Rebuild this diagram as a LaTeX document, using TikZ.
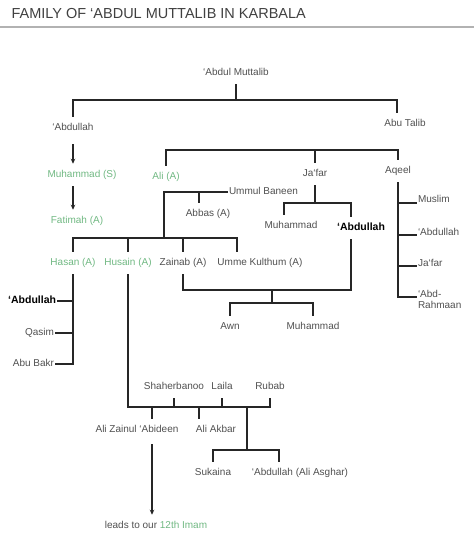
\documentclass[tikz,border=0pt]{standalone}
\usepackage{fontspec}
\setmainfont{Liberation Sans}
\usetikzlibrary{arrows.meta}

\definecolor{txt}{RGB}{80,80,80}
\definecolor{imamgreen}{RGB}{112,184,130}

\begin{document}
\begin{tikzpicture}[x=1pt, y=-1pt, >={Stealth[length=5pt,width=4.5pt]},
    pers/.style={font=\fontsize{10}{12}\selectfont, text=txt, inner sep=1.5pt, outer sep=5pt, text height=7.5pt, text depth=2pt},
    imam/.style={pers, text=imamgreen},
    bold/.style={pers, text=black, font=\fontsize{10.5}{12}\selectfont\bfseries},
    side/.style={pers, outer sep=0pt, inner sep=1pt},
    link/.style={line width=1.1pt, draw=black!85}]
    \useasboundingbox (0,0) rectangle (474,534);

    % Title
    \node[anchor=west, font=\fontsize{14.5}{16}\selectfont, text=black!75] (title) at (8,14) {FAMILY OF ‘ABDUL MUTTALIB IN KARBALA};
    \draw[black!30, line width=2pt] (0,27) -- (474,27);

    % Generations
    \node[pers] (am) at (236,73) {‘Abdul Muttalib};
    \node[pers] (abd) at (73,128) {‘Abdullah};
    \node[pers] (abt) at (405,124) {Abu Talib};
    \node[imam] (muh) at (82,175) {Muhammad (S)};
    \node[imam] (fat) at (77,221) {Fatimah (A)};
    \node[imam] (ali) at (166,177) {Ali (A)};
    \node[pers] (jaf) at (315,174) {Ja‘far};
    \node[pers] (aq) at (398,171) {Aqeel};
    \node[side, anchor=west] (ub) at (228,192) {Ummul Baneen};
    \node[pers] (abb) at (208,214) {Abbas (A)};
    \node[pers] (jmuh) at (291,226) {Muhammad};
    \node[bold] (jabd) at (361,228) {‘Abdullah};
    \node[imam] (has) at (73,263) {Hasan (A)};
    \node[imam] (hus) at (128,263) {Husain (A)};
    \node[pers] (zai) at (183,263) {Zainab (A)};
    \node[pers] (umk) at (260,263) {Umme Kulthum (A)};
    \node[pers] (awn) at (230,327) {Awn};
    \node[pers] (zmuh) at (313,327) {Muhammad};

    % Aqeel's sons
    \node[side, anchor=base west] (mus) at (417,203) {Muslim};
    \node[side, anchor=base west] (qabd) at (417,235) {‘Abdullah};
    \node[side, anchor=base west] (qjaf) at (417,266) {Ja‘far};
    \node[side, anchor=base west] (abr) at (417,297) {\begin{tabular}[t]{@{}l@{}}‘Abd-\\[-1pt]Rahmaan\end{tabular}};

    % Hasan's sons
    \node[bold, outer sep=0pt, inner sep=1pt, anchor=east] (habd) at (57,301) {‘Abdullah};
    \node[side, anchor=east] (qas) at (55,333) {Qasim};
    \node[side, anchor=east] (abk) at (55,364) {Abu Bakr};

    % Husain's family
    \node[pers] (sha) at (174,387) {Shaherbanoo};
    \node[pers] (lai) at (222,387) {Laila};
    \node[pers] (rub) at (270,387) {Rubab};
    \node[pers] (azd) at (137,430) {Ali Zainul ‘Abideen};
    \node[pers] (aak) at (216,430) {Ali Akbar};
    \node[pers] (suk) at (213,473) {Sukaina};
    \node[pers] (asg) at (300,473) {‘Abdullah (Ali Asghar)};
    \node[pers] (lead) at (156,526) {leads to our \textcolor{imamgreen}{12th Imam}};

    % Junctions
    \coordinate (b1) at (236,100);
    \coordinate (b2) at (315,150);
    \coordinate (b3) at (164,238);
    \coordinate (b4) at (315,203);
    \coordinate (b5) at (272,290);
    \coordinate (b6) at (272,303);
    \coordinate (b7) at (247,407);
    \coordinate (b8) at (247,450);

    % Connectors
    \draw[link] (am) -- (b1);
    \draw[link] (abd) |- (b1) -| ([xshift=-8pt]abt.north);
    \draw[link,->,shorten <=5pt] (abd.south) -- (abd.south |- muh.north);
    \draw[link,->] (abd.south |- muh.south) -- (abd.south |- fat.north);
    \draw[link] (ali) |- (b2) -| (aq);
    \draw[link] (jaf) -- (b2);
    \draw[link] (ub.west) -| (b3);
    \draw[link] ([xshift=-9pt]abb.north) -- ([xshift=-9pt]abb.north |- ub.west);
    \draw[link] (has) |- (b3) -| ([xshift=-23pt]umk.north);
    \draw[link] (hus) -- (hus |- b3);
    \draw[link] (zai) -- (zai |- b3);
    \draw[link] (jaf) -- (b4);
    \draw[link] ([xshift=-7pt]jmuh.north) |- (b4) -| ([xshift=-10pt]jabd.north);
    \draw[link] (zai) |- (b5) -| ([xshift=-10pt]jabd.south);
    \draw[link] (b5) -- (b6);
    \draw[link] (awn) |- (b6) -| (zmuh);
    \draw[link] (aq) |- (abr.base west);
    \foreach \n in {mus,qabd,qjaf}
        \draw[link] (aq |- \n.base west) -- (\n.base west);
    \draw[link] (has) |- (abk.east);
    \foreach \n in {habd,qas}
        \draw[link] (\n.east) -- (\n.east -| has);
    \draw[link] (hus) |- (b7) -| (rub);
    \draw[link] (sha) -- (sha |- b7);
    \draw[link] (lai) -- (lai |- b7);
    \draw[link] ([xshift=15pt]azd.north) -- ([xshift=15pt]azd.north |- b7);
    \draw[link] ([xshift=-17pt]aak.north) -- ([xshift=-17pt]aak.north |- b7);
    \draw[link] (b7) -- (b8);
    \draw[link] (suk) |- (b8) -| ([xshift=-21pt]asg.north);
    \draw[link,->,shorten <=3pt] ([xshift=15pt]azd.south) -- ([xshift=15pt]azd.south |- lead.north);
\end{tikzpicture}
\end{document}
